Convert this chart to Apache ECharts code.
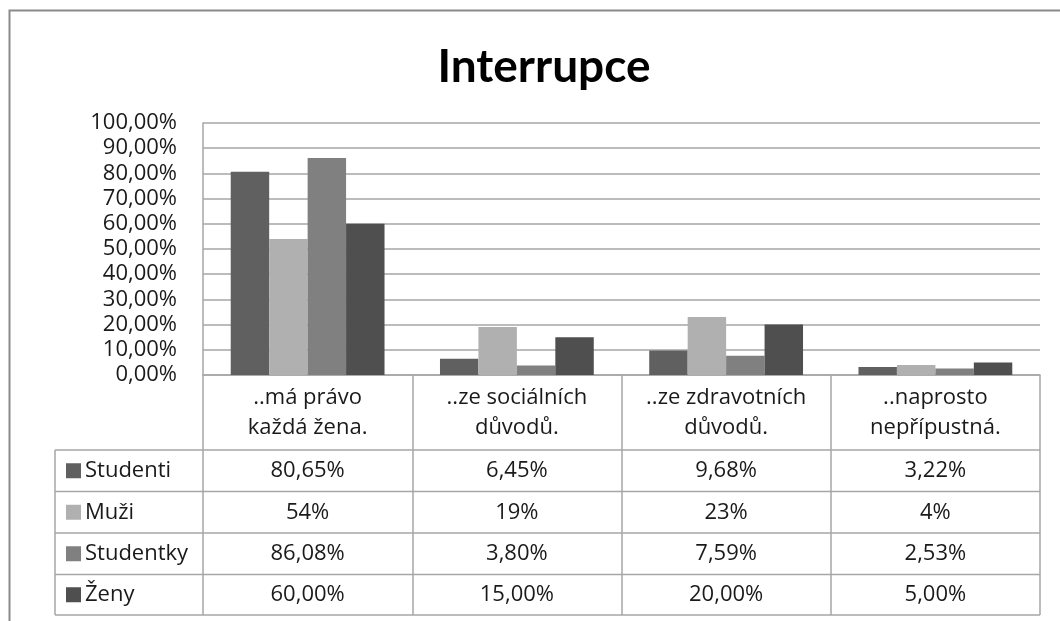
<!DOCTYPE html>
<html>
<head>
<meta charset="utf-8">
<script src="https://cdn.jsdelivr.net/npm/echarts@6/dist/echarts.min.js"></script>
<style>
  html, body { margin: 0; padding: 0; background: #fff; }
  #chart { width: 1060px; height: 621px; }
</style>
</head>
<body>
<div id="chart"></div>
<script>
var titleText = 'Interrupce';
var categories = ['..má právo\nkaždá žena.', '..ze sociálních\ndůvodů.', '..ze zdravotních\ndůvodů.', '..naprosto\nnepřípustná.'];
var seriesNames = ['Studenti', 'Muži', 'Studentky', 'Ženy'];
var studenti = [0.8065, 0.0645, 0.0968, 0.0322];
var muzi = [0.54, 0.19, 0.23, 0.04];
var studentky = [0.8608, 0.0380, 0.0759, 0.0253];
var zeny = [0.60, 0.15, 0.20, 0.05];
var decimals = [2, 0, 2, 2];
var colors = ['#606060', '#b0b0b0', '#808080', '#4f4f4f'];

var font = 'Open Sans';
var fs = 22;
var txtColor = '#1a1a1a';
var lineColor = '#a6a6a6';

function pct(v, d) {
  return (v * 100).toFixed(d).replace('.', ',') + '%';
}

var allData = [studenti, muzi, studentky, zeny];

var myChart = echarts.init(document.getElementById('chart'));
myChart.setOption({
  animation: false,
  textStyle: { fontFamily: font },
  title: {
    text: titleText,
    left: 539,
    top: 39,
    textAlign: 'center',
    textStyle: { fontFamily: 'Lato', fontSize: 46, fontWeight: 'bold', color: '#000' }
  },
  grid: { left: 203, right: 20, top: 123, bottom: 246 },
  xAxis: {
    type: 'category',
    data: categories,
    axisLine: { lineStyle: { color: lineColor, width: 1.5 } },
    axisTick: { show: true, interval: 0, length: 240, lineStyle: { color: lineColor, width: 1.5 } },
    axisLabel: { interval: 0, margin: 8, fontSize: fs, lineHeight: 30, color: txtColor, fontFamily: font }
  },
  yAxis: {
    type: 'value',
    min: 0,
    max: 1,
    interval: 0.1,
    axisLine: { show: true, lineStyle: { color: lineColor, width: 1.5 } },
    axisTick: { show: false },
    splitLine: { lineStyle: { color: lineColor, width: 1.5 } },
    axisLabel: {
      margin: 26,
      fontSize: fs,
      lineHeight: 24,
      color: txtColor,
      fontFamily: font,
      formatter: function (v) { return pct(v, 2); }
    }
  },
  series: seriesNames.map(function (name, i) {
    return {
      name: name,
      type: 'bar',
      data: allData[i],
      barGap: '0%',
      barCategoryGap: '26.5%',
      itemStyle: { color: colors[i] }
    };
  })
});

// tabulka s daty pod grafem
var rowTops = [450, 491.5, 533, 574.5, 615];
var tableLeft = 55, tableRight = 1040;
var g = [];
g.push({
  type: 'rect', silent: true,
  shape: { x: 9.5, y: 10.5, width: 1100, height: 700 },
  style: { fill: null, stroke: '#8a8a8a', lineWidth: 2 }
});
rowTops.forEach(function (y) {
  g.push({
    type: 'line', silent: true,
    shape: { x1: tableLeft, y1: y, x2: tableRight, y2: y },
    style: { stroke: lineColor, lineWidth: 1.5 }
  });
});
g.push({
  type: 'line', silent: true,
  shape: { x1: tableLeft, y1: rowTops[0], x2: tableLeft, y2: rowTops[4] },
  style: { stroke: lineColor, lineWidth: 1.5 }
});
seriesNames.forEach(function (name, i) {
  var cy = (rowTops[i] + rowTops[i + 1]) / 2;
  g.push({
    type: 'rect', silent: true,
    shape: { x: 66, y: cy - 7.5, width: 15, height: 15 },
    style: { fill: colors[i] }
  });
  g.push({
    type: 'text', silent: true, x: 85, y: cy,
    style: { text: name, fontFamily: font, fontSize: fs, fill: txtColor, verticalAlign: 'middle' }
  });
  categories.forEach(function (c, j) {
    var cx = myChart.convertToPixel({ xAxisIndex: 0 }, c);
    g.push({
      type: 'text', silent: true, x: cx, y: cy,
      style: { text: pct(allData[i][j], decimals[i]), fontFamily: font, fontSize: fs, fill: txtColor, align: 'center', verticalAlign: 'middle' }
    });
  });
});
myChart.setOption({ graphic: g });
</script>
</body>
</html>
